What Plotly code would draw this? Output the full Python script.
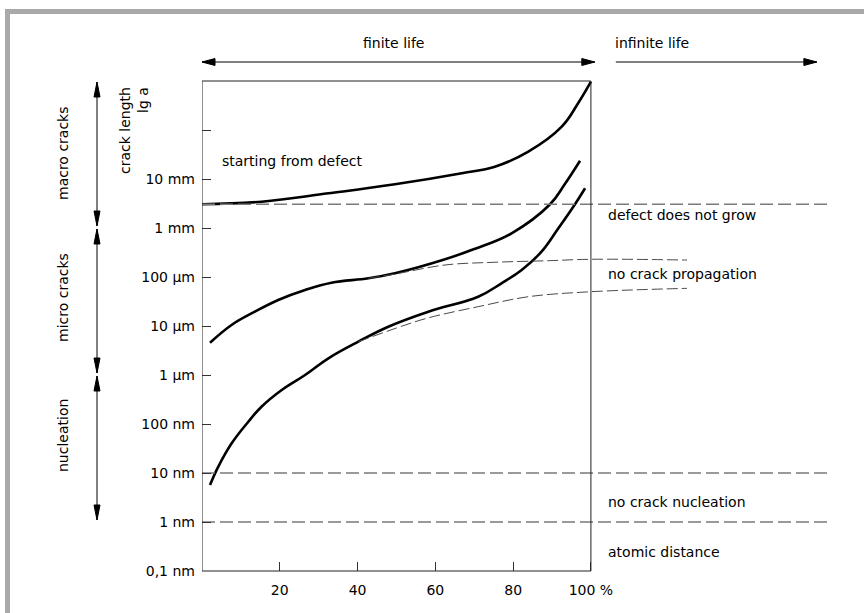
import numpy as np
import plotly.graph_objects as go

# ---------------- data ----------------
# x: percent of fatigue life, y: crack length a in metres
life_defect = [0, 15.3, 32.5, 49.6, 66.8, 75.3, 83.9, 92.5, 96.7, 100]
crack_defect = [3.05e-3, 3.44e-3, 5.10e-3, 7.80e-3, 1.31e-2, 1.78e-2, 3.61e-2, 0.117, 0.351, 0.968]

life_micro = [2.06, 7.6, 13.6, 19.6, 26.5, 33.3, 42.8, 49.6, 62.5, 69.3, 79.6, 89.5, 93.3, 97.2]
crack_micro = [4.56e-6, 1.05e-5, 1.96e-5, 3.40e-5, 5.43e-5, 7.66e-5, 9.40e-5, 1.19e-4,
               2.30e-4, 3.56e-4, 7.80e-4, 3.05e-3, 7.9e-3, 2.36e-2]

life_nucl = [2.06, 4.19, 7.63, 11.9, 15.3, 20.5, 26.5, 32.5, 40.2, 47.9, 58.2, 71.0, 77.0,
             82.2, 87.3, 91.5, 95.9, 98.5]
crack_nucl = [5.69e-9, 1.35e-8, 4.04e-8, 1.11e-7, 2.25e-7, 4.94e-7, 1.0e-6, 2.19e-6, 4.79e-6,
              9.68e-6, 1.96e-5, 3.96e-5, 7.43e-5, 1.39e-4, 3.28e-4, 9.5e-4, 3.05e-3, 6.46e-3]

# crack arrest branches (thin dashed)
life_arrest_upper = [42.8, 49.6, 62.5, 75.3, 89.0, 100, 124.7]
crack_arrest_upper = [9.40e-5, 1.15e-4, 1.76e-4, 2.0e-4, 2.15e-4, 2.30e-4, 2.22e-4]
life_arrest_lower = [40.2, 50.0, 58.1, 71.0, 83.9, 100, 124.7]
crack_arrest_lower = [4.79e-6, 9.1e-6, 1.46e-5, 2.48e-5, 3.96e-5, 5.01e-5, 5.87e-5]

# horizontal threshold levels
threshold_levels = [3.05e-3, 1e-8, 1e-9]
threshold_labels = ["defect does not grow", "no crack nucleation", "atomic distance"]

# y tick labels
y_tickvals = [1e-10, 1e-9, 1e-8, 1e-7, 1e-6, 1e-5, 1e-4, 1e-3, 1e-2, 1e-1, 1e0]
y_ticktext = ["0,1 nm", "1 nm", "10 nm", "100 nm", "1 µm", "10 µm", "100 µm",
              "1 mm", "10 mm", "", ""]
x_tickvals = [20, 40, 60, 80, 100]
x_ticktext = ["20", "40", "60", "80", "100 %"]

# regions (crack length ranges)
regions = [("macro cracks", 1e0, 1e-3), ("micro cracks", 1e-3, 1e-6), ("nucleation", 1e-6, 1e-9)]

# ---------------- geometry ----------------
W, H = 864, 613
L, R, T, B = 202, 37, 81, 42
X_MAX = 160.7
Y_LOG = (-10, 0)
pw, ph = W - L - R, H - T - B
FONT = "DejaVu Sans"


def P(px, py):
    return (px - L) / pw, (H - B - py) / ph


def x_px(x):
    return L + x / X_MAX * pw


def y_px(v):
    return H - B - (np.log10(v) - Y_LOG[0]) / (Y_LOG[1] - Y_LOG[0]) * ph


fig = go.Figure()

thick = dict(color="black", width=2.6, shape="spline", smoothing=1.15)
for xs, ys in [(life_defect, crack_defect), (life_micro, crack_micro), (life_nucl, crack_nucl)]:
    fig.add_trace(go.Scatter(x=xs, y=ys, mode="lines", line=thick, hoverinfo="skip"))

thin = dict(color="#4a4a4a", width=1, dash="11px,4px", shape="spline", smoothing=1.0)
for xs, ys in [(life_arrest_upper, crack_arrest_upper), (life_arrest_lower, crack_arrest_lower)]:
    fig.add_trace(go.Scatter(x=xs, y=ys, mode="lines", line=thin, hoverinfo="skip"))

for lvl in threshold_levels:
    fig.add_trace(go.Scatter(x=[0, X_MAX], y=[lvl, lvl], mode="lines",
                             line=dict(color="#7a7a7a", width=1.3, dash="13px,5px"),
                             hoverinfo="skip"))

shapes = []
# chart frame (0..100 %)
shapes.append(dict(type="rect", xref="x", yref="y domain", x0=0, x1=100, y0=0, y1=1,
                   line=dict(color="#222222", width=1)))
# grey page border (top and left)
gx0, gy0 = P(5, 9)
gx1, gy1 = P(10, 640)
shapes.append(dict(type="rect", xref="paper", yref="paper", x0=gx0, x1=gx1, y0=gy1, y1=gy0,
                   line=dict(width=0), fillcolor="#a9a9a9", layer="above"))
gx0, gy0 = P(5, 9)
gx1, gy1 = P(880, 14)
shapes.append(dict(type="rect", xref="paper", yref="paper", x0=gx0, x1=gx1, y0=gy1, y1=gy0,
                   line=dict(width=0), fillcolor="#a9a9a9", layer="above"))


def head(tx, ty, dx, dy, length, half):
    # filled triangle with tip at (tx,ty) pointing in direction (dx,dy)
    bx, by = tx - dx * length, ty - dy * length
    nx, ny = -dy, dx
    pts = [(tx, ty), (bx + nx * half, by + ny * half), (bx - nx * half, by - ny * half)]
    pp = [P(a, b) for a, b in pts]
    path = "M{},{} L{},{} L{},{} Z".format(pp[0][0], pp[0][1], pp[1][0], pp[1][1], pp[2][0], pp[2][1])
    return dict(type="path", xref="paper", yref="paper", path=path,
                fillcolor="black", line=dict(color="black", width=1))


def arrow(x0, y0, x1, y1, both=True, length=14, half=3):
    a0, b0 = P(x0, y0)
    a1, b1 = P(x1, y1)
    out = [dict(type="line", xref="paper", yref="paper", x0=a0, y0=b0, x1=a1, y1=b1,
                line=dict(color="black", width=1))]
    d = np.hypot(x1 - x0, y1 - y0)
    ux, uy = (x1 - x0) / d, (y1 - y0) / d
    out.append(head(x1, y1, ux, uy, length, half))
    if both:
        out.append(head(x0, y0, -ux, -uy, length, half))
    return out


# life arrows
shapes += arrow(x_px(0), 62, x_px(101), 62, both=True, length=13, half=3.5)
shapes += arrow(x_px(106.4), 62, x_px(158.1), 62, both=False, length=13, half=3.5)
# region arrows on the left
for name, top, bot in regions:
    shapes += arrow(97, y_px(top) + 1, 97, y_px(bot) - 2, both=True, length=15, half=3)

ann = []


def text(s, px, py, xanchor="center", angle=0, align="center"):
    a, b = P(px, py)
    ann.append(dict(text=s, x=a, y=b, xref="paper", yref="paper", showarrow=False,
                    xanchor=xanchor, yanchor="middle", textangle=angle, align=align,
                    font=dict(family=FONT, size=14, color="black")))


text("finite life", 393, 43)
text("infinite life", 613, 43, xanchor="left")
text("starting from defect", 220, 161, xanchor="left")
text("crack length<br>lg a", 134, 131, angle=-90, align="right")
for (name, _, _), cy in zip(regions, [153, 298, 436]):
    text(name, 63, cy, angle=-90)
text(threshold_labels[0], 606, 215, xanchor="left")
text("no crack propagation", 606, 274, xanchor="left")
text(threshold_labels[1], 606, 502, xanchor="left")
text(threshold_labels[2], 606, 552, xanchor="left")

fig.update_layout(
    width=W, height=H,
    margin=dict(l=L, r=R, t=T, b=B, pad=0),
    paper_bgcolor="white", plot_bgcolor="white",
    showlegend=False,
    shapes=shapes, annotations=ann,
    font=dict(family=FONT, size=14, color="black"),
    xaxis=dict(range=[0, X_MAX], tickvals=x_tickvals, ticktext=x_ticktext,
               ticks="inside", ticklen=9, tickcolor="#333333", tickwidth=1,
               showgrid=False, zeroline=False, showline=False,
               ticklabelstandoff=9, tickfont=dict(family=FONT, size=14, color="black")),
    yaxis=dict(type="log", range=list(Y_LOG), tickvals=y_tickvals, ticktext=y_ticktext,
               ticks="inside", ticklen=9, tickcolor="#333333", tickwidth=1,
               showgrid=False, zeroline=False, showline=False,
               ticklabelstandoff=6, tickfont=dict(family=FONT, size=14, color="black")),
)

fig.write_html("out.html")
